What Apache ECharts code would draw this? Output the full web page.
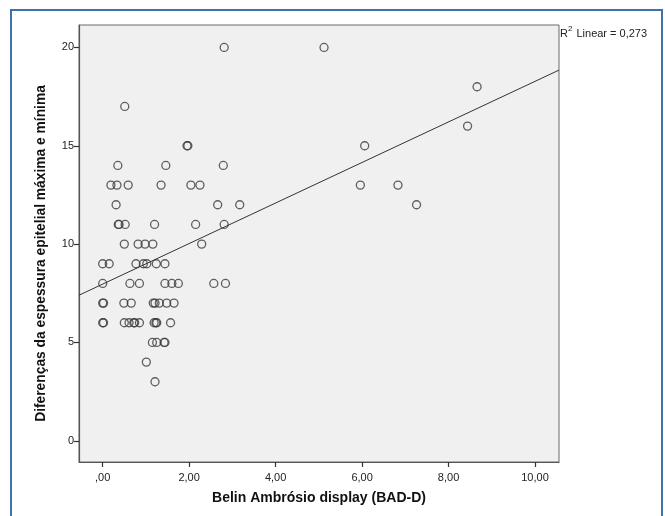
<!DOCTYPE html>
<html>
<head>
<meta charset="utf-8">
<script src="https://cdn.jsdelivr.net/npm/echarts@6/dist/echarts.min.js"></script>
<style>
html,body{margin:0;padding:0;background:#fff;}
#chart{width:665px;height:516px;}
</style>
</head>
<body>
<div id="chart"></div>
<script>
// Belin Ambrósio display (BAD-D) values (x)
var badD = [
  2.81, 5.12,
  8.66,
  0.51,
  8.44,
  1.95, 1.97, 6.06,
  0.35, 1.46, 2.79,
  0.19, 0.33, 0.59, 1.35, 2.04, 2.25, 5.96, 6.83,
  0.31, 2.66, 3.17, 7.26,
  0.36, 0.38, 0.52, 1.20, 2.15, 2.81,
  0.50, 0.82, 0.98, 1.16, 2.29,
  0.00, 0.15, 0.77, 0.94, 1.02, 1.24, 1.44,
  0.00, 0.63, 0.85, 1.44, 1.60, 1.75, 2.57, 2.84,
  0.00, 0.02, 0.49, 0.66, 1.17, 1.21, 1.31, 1.48, 1.65,
  0.00, 0.02, 0.50, 0.61, 0.72, 0.74, 0.85, 1.19, 1.23, 1.25, 1.57,
  1.15, 1.25, 1.42, 1.44,
  1.01,
  1.21
];
// Diferenças da espessura epitelial máxima e mínima (y)
var epiDiff = [
  20, 20,
  18,
  17,
  16,
  15, 15, 15,
  14, 14, 14,
  13, 13, 13, 13, 13, 13, 13, 13,
  12, 12, 12, 12,
  11, 11, 11, 11, 11, 11,
  10, 10, 10, 10, 10,
  9, 9, 9, 9, 9, 9, 9,
  8, 8, 8, 8, 8, 8, 8, 8,
  7, 7, 7, 7, 7, 7, 7, 7, 7,
  6, 6, 6, 6, 6, 6, 6, 6, 6, 6, 6,
  5, 5, 5, 5,
  4,
  3
];
var xTicks = [0, 2, 4, 6, 8, 10];
var yTicks = [0, 5, 10, 15, 20];
var xRange = [-0.548, 10.555];
var yRange = [-1.08, 21.14];
var r2Text = '0,273';

var points = badD.map(function (x, i) { return [x, epiDiff[i]]; });

// least-squares linear fit
var n = points.length, sx = 0, sy = 0, sxy = 0, sxx = 0;
points.forEach(function (p) { sx += p[0]; sy += p[1]; sxy += p[0] * p[1]; sxx += p[0] * p[0]; });
var slope = (sxy - sx * sy / n) / (sxx - sx * sx / n);
var intercept = sy / n - slope * sx / n;
var fitLine = [[xRange[0], intercept + slope * xRange[0]], [xRange[1], intercept + slope * xRange[1]]];

var FONT = '"Liberation Sans", Arial, sans-serif';
var chart = echarts.init(document.getElementById('chart'));
chart.setOption({
  animation: false,
  backgroundColor: '#ffffff',
  graphic: [
    {
      type: 'rect', z: -10, silent: true,
      shape: { x: 11, y: 10, width: 651, height: 520 },
      style: { fill: '#ffffff', stroke: '#3f72a8', lineWidth: 2 }
    },
    {
      type: 'text', left: 560, top: 25,
      style: {
        text: '{a|R}{s|2}{a| Linear = ' + r2Text + '}',
        rich: {
          a: { fontSize: 11, fontFamily: FONT, fill: '#222', verticalAlign: 'bottom', lineHeight: 14 },
          s: { fontSize: 8, fontFamily: FONT, fill: '#222', verticalAlign: 'top', lineHeight: 14, padding: [0, 1, 5, 0] }
        }
      }
    }
  ],
  grid: {
    left: 79, right: 106, top: 25, bottom: 54,
    show: true, backgroundColor: '#f0f0f0', borderColor: '#6b6b6b', borderWidth: 1
  },
  xAxis: {
    type: 'value', min: xRange[0], max: xRange[1],
    name: 'Belin Ambrósio display (BAD-D)', nameLocation: 'middle', nameGap: 29,
    nameTextStyle: { fontFamily: FONT, fontSize: 14, fontWeight: 'bold', color: '#111' },
    axisLine: { show: true, onZero: false, lineStyle: { color: '#555', width: 1.2 } },
    axisTick: { show: true, length: 5, customValues: xTicks, lineStyle: { color: '#333', width: 1.2 } },
    axisLabel: {
      customValues: xTicks, margin: 10, fontFamily: FONT, fontSize: 11, color: '#222',
      formatter: function (v) { return v === 0 ? ',00' : v.toFixed(2).replace('.', ','); }
    },
    splitLine: { show: false }
  },
  yAxis: {
    type: 'value', min: yRange[0], max: yRange[1],
    name: 'Diferenças da espessura epitelial máxima e mínima', nameLocation: 'middle', nameGap: 31,
    nameTextStyle: { fontFamily: FONT, fontSize: 13.8, fontWeight: 'bold', color: '#111', padding: [0, 20, 0, 0] },
    axisLine: { show: true, onZero: false, lineStyle: { color: '#555', width: 1.2 } },
    axisTick: { show: true, length: 5, customValues: yTicks, lineStyle: { color: '#333', width: 1.2 } },
    axisLabel: { customValues: yTicks, margin: 5, fontFamily: FONT, fontSize: 11, color: '#222' },
    splitLine: { show: false }
  },
  series: [
    {
      type: 'line', data: fitLine, symbol: 'none', silent: true,
      lineStyle: { color: '#333', width: 1 }, z: 2
    },
    {
      type: 'scatter', data: points, symbol: 'circle', symbolSize: 8,
      itemStyle: { color: 'rgba(0,0,0,0)', borderColor: '#3a3a3a', borderWidth: 1.3 }, z: 3
    }
  ]
});
</script>
</body>
</html>
